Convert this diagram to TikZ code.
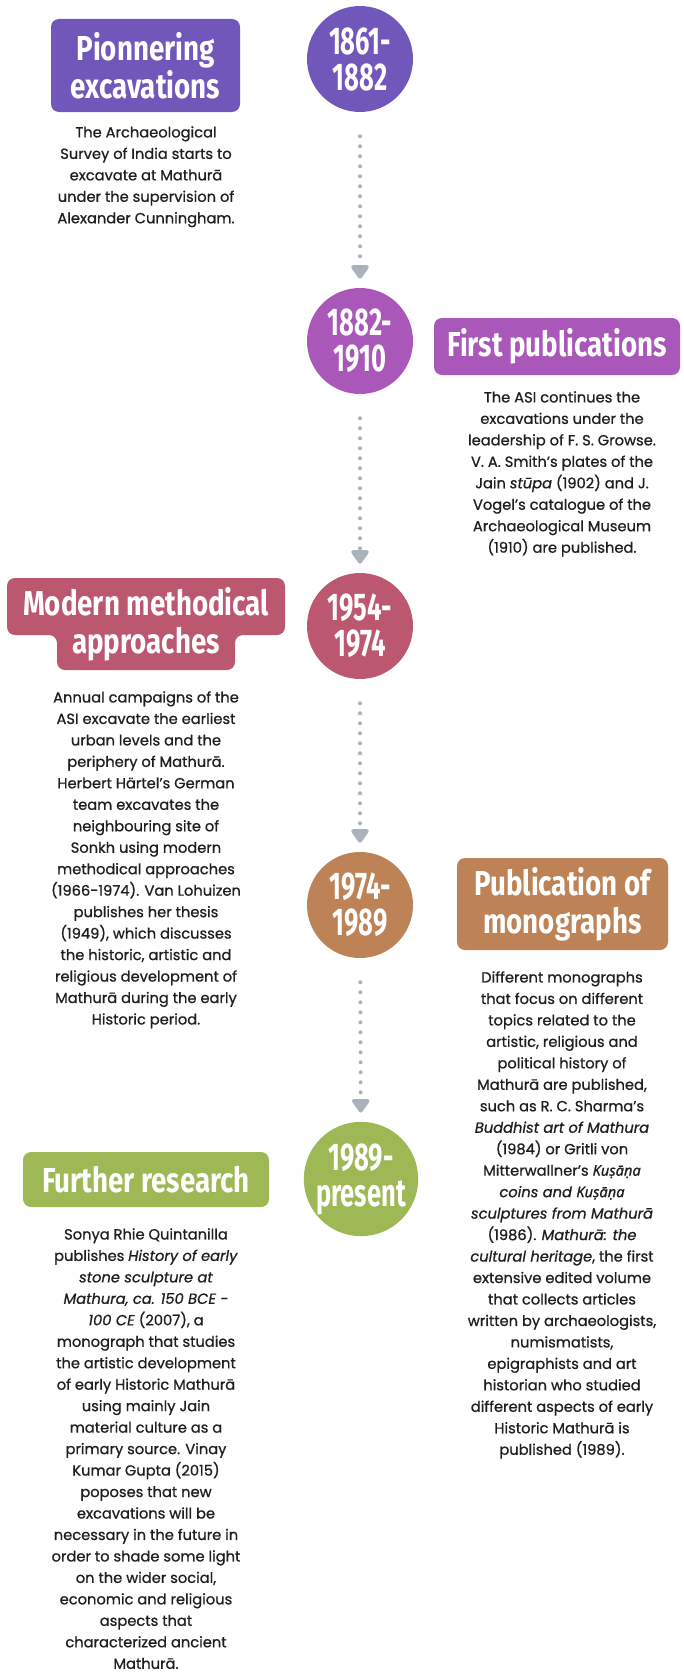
\documentclass[tikz,border=0pt]{standalone}
\usepackage{fontspec}
\usepackage{tikz}
\usetikzlibrary{arrows.meta}
\setmainfont[FakeBold=0.8]{Poppins}
\newfontfamily\iastfont[FakeBold=0.8]{Noto Sans}
\newfontfamily\headfont[FakeStretch=0.8]{Fira Sans}
\newfontfamily\yearfont[FakeStretch=0.66]{Fira Sans}
\definecolor{mypurplecolor}{HTML}{7257BB}
\definecolor{mymagentacolor}{HTML}{A957B8}
\definecolor{myrosecolor}{HTML}{BB5870}
\definecolor{mybrowncolor}{HTML}{BD8256}
\definecolor{mygreencolor}{HTML}{9DB855}
\definecolor{mylinecolor}{HTML}{AAB2BB}
\definecolor{mytextcolor}{HTML}{1E1E1E}
\newcommand{\kusana}{{\iastfont Kuṣāṇa}}
\tikzset{%
  yearnode/.style={circle, minimum size=106*0.75pt, inner sep=0pt, text=white, align=center,%
    font=\yearfont\bfseries\fontsize{29pt}{27pt}\selectfont},%
  titlebox/.style={rectangle, rounded corners=8*0.75pt, inner sep=0pt, text=white, align=center,%
    font=\headfont\bfseries\fontsize{26pt}{28.5pt}\selectfont},%
  bodytext/.style={anchor=north, inner sep=0pt, align=center, text=mytextcolor,%
    font=\fontsize{11pt}{16.1pt}\selectfont},%
  timeline/.style={draw=mylinecolor, line width=4*0.75pt, line cap=round, dash pattern=on 0pt off 10*0.75pt,%
    -{Triangle[width=20*0.75pt, length=15*0.75pt, round]}, shorten <=24*0.75pt, shorten >=9*0.75pt}%
}

\begin{document}
\begin{tikzpicture}[x=0.75pt, y=-0.75pt]%
\useasboundingbox (0,0) rectangle (683,1677);%
% period circles
\node[yearnode, fill=mypurplecolor] (y1) at (360, 59) {1861-\\1882};%
\node[yearnode, fill=mymagentacolor] (y2) at (360, 341) {1882-\\1910};%
\node[yearnode, fill=myrosecolor] (y3) at (360, 626) {1954-\\1974};%
\node[yearnode, fill=mybrowncolor] (y4) at (360, 905) {1974-\\1989};%
\node[yearnode, fill=mygreencolor] (y5) at (361, 1179) {1989-\\present};%
% arrows between periods
\draw[timeline] (y1) -- (y2);%
\draw[timeline] (y2) -- (y3);%
\draw[timeline] (y3) -- (y4);%
\draw[timeline] (y4) -- (y5);%
% titles
\node[titlebox, fill=mypurplecolor, minimum width=189*0.75pt, minimum height=93*0.75pt] (t1) at (145.5, 65.5) {Pionnering\\excavations};%
\node[titlebox, fill=mymagentacolor, minimum width=246*0.75pt, minimum height=57*0.75pt] (t2) at (557, 346.5) {First publications};%
\fill[myrosecolor, rounded corners=8*0.75pt] (7,578) -- (285,578) -- (285,635) -- (235,635) -- (235,670) -- (57,670) -- (57,635) -- (7,635) -- cycle;%
\node[titlebox] (t3) at (146, 624) {Modern methodical\\approaches};%
\node[titlebox, fill=mybrowncolor, minimum width=211*0.75pt, minimum height=92*0.75pt] (t4) at (562.5, 904) {Publication of\\monographs};%
\node[titlebox, fill=mygreencolor, minimum width=246*0.75pt, minimum height=55*0.75pt] (t5) at (146, 1179.5) {Further research};%
% descriptions
\node[bodytext] (d1) at (146, 126) {The Archaeological\\Survey of India starts to\\excavate at Mathurā\\under the supervision of\\Alexander Cunningham.};%
\node[bodytext] (d2) at (562, 391) {The ASI continues the\\excavations under the\\leadership of F. S. Growse.\\V. A. Smith's plates of the\\Jain \textit{stūpa} (1902) and J.\\Vogel's catalogue of the\\Archaeological Museum\\(1910) are published.};%
\node[bodytext] (d3) at (146, 691) {Annual campaigns of the\\ASI excavate the earliest\\urban levels and the\\periphery of Mathurā.\\Herbert Härtel's German\\team excavates the\\neighbouring site of\\Sonkh using modern\\methodical approaches\\(1966-1974). Van Lohuizen\\publishes her thesis\\(1949), which discusses\\the historic, artistic and\\religious development of\\Mathurā during the early\\Historic period.};%
\node[bodytext] (d4) at (562, 971) {Different monographs\\that focus on different\\topics related to the\\artistic, religious and\\political history of\\Mathurā are published,\\such as R. C. Sharma's\\\textit{Buddhist art of Mathura}\\(1984) or Gritli von\\Mitterwallner's \textit{\kusana}\\\textit{coins and \kusana}\\\textit{sculptures from Mathurā}\\(1986). \textit{Mathurā: the}\\\textit{cultural heritage}, the first\\extensive edited volume\\that collects articles\\written by archaeologists,\\numismatists,\\epigraphists and art\\historian who studied\\different aspects of early\\Historic Mathurā is\\published (1989).};%
\node[bodytext] (d5) at (146, 1228) {Sonya Rhie Quintanilla\\publishes \textit{History of early}\\\textit{stone sculpture at}\\\textit{Mathura, ca. 150 BCE -}\\\textit{100 CE} (2007), a\\monograph that studies\\the artistic development\\of early Historic Mathurā\\using mainly Jain\\material culture as a\\primary source. Vinay\\Kumar Gupta (2015)\\poposes that new\\excavations will be\\necessary in the future in\\order to shade some light\\on the wider social,\\economic and religious\\aspects that\\characterized ancient\\Mathurā.};%
\end{tikzpicture}
\end{document}
